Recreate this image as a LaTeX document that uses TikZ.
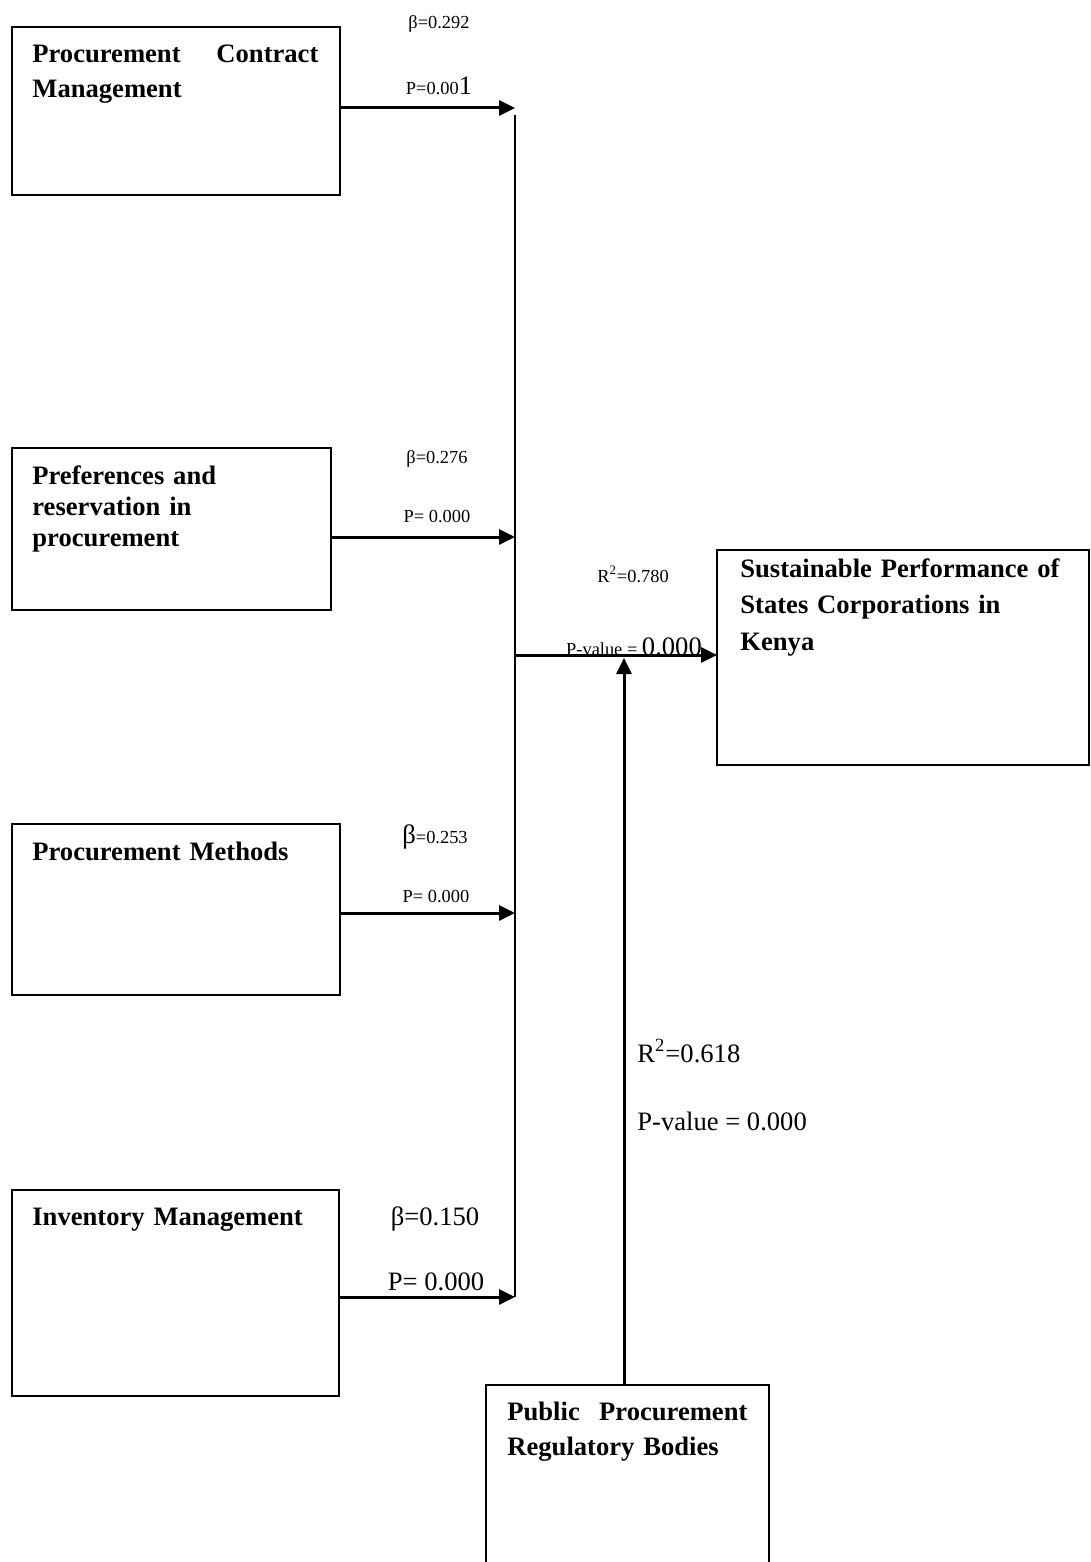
\documentclass[tikz,border=0pt]{standalone}
\usepackage{fontspec}
\setmainfont{Liberation Serif}
\usetikzlibrary{arrows.meta}

\begin{document}
\begin{tikzpicture}[
    x=0.5pt, y=-0.5pt,
    >={Triangle[length=8pt,width=7.5pt]},
    var box/.style={draw,line width=1pt,inner sep=0pt,outer sep=0pt,anchor=north west},
    box text/.style={anchor=base west,align=left,inner sep=0pt,font=\bfseries\fontsize{13.3}{17.5}\selectfont},
    small label/.style={anchor=base,inner sep=0pt,font=\fontsize{9.2}{11}\selectfont},
    big label/.style={anchor=base,inner sep=0pt,font=\fontsize{13.3}{16}\selectfont},
    path arrow/.style={->,line width=1.5pt},
    bus line/.style={line width=1pt}
]
\useasboundingbox (0,0) rectangle (1091,1562);

% Variaveis independentes (caixas a esquerda)
\node[var box,minimum width=164pt,minimum height=84pt] (pcm) at (12,27) {};
\node[box text,text width=143pt] (pcm text) at (32,63) {Procurement\hfill Contract\\Management};

\node[var box,minimum width=159.5pt,minimum height=81pt] (pref) at (12,448) {};
\node[box text,text width=150pt,font=\bfseries\fontsize{13.3}{15.5}\selectfont] (pref text) at (32,484) {Preferences and\\reservation in\\procurement};

\node[var box,minimum width=164pt,minimum height=85.5pt] (meth) at (12,824) {};
\node[box text,text width=150pt] (meth text) at (32,860) {Procurement Methods};

\node[var box,minimum width=163.5pt,minimum height=103pt] (inv) at (12,1190) {};
\node[box text,text width=150pt] (inv text) at (32,1225) {Inventory Management};

% Variavel dependente
\node[var box,minimum width=186pt,minimum height=107.5pt] (perf) at (717,550) {};
\node[box text,text width=170pt,font=\bfseries\fontsize{13.3}{18.25}\selectfont] (perf text) at (740,577) {Sustainable Performance of\\States Corporations in\\Kenya};

% Moderadora (cortada na margem inferior)
\node[var box,minimum width=141.5pt,minimum height=110pt] (ppr) at (486,1385) {};
\node[box text,text width=120pt] (ppr text) at (507,1420) {Public\hfill Procurement\\Regulatory Bodies};

% Pontos de juncao no barramento
\coordinate (bus top) at (515,115);
\coordinate (j1) at (515,108);
\coordinate (j2) at (515,537);
\coordinate (j3) at (515,913);
\coordinate (j4) at (515,1297);
\coordinate (j out) at (515,655);
\coordinate (mod tip) at (624,658);

% Setas
\draw[path arrow] (pcm.east |- j1) -- (j1);
\draw[path arrow] (pref.east |- j2) -- (j2);
\draw[path arrow] (meth.east |- j3) -- (j3);
\draw[path arrow] (inv.east |- j4) -- (j4);
\draw[bus line] (bus top) -- (j4);
\draw[path arrow] (j out) -- (j out -| perf.west);
\draw[path arrow] (ppr.north -| mod tip) -- (mod tip);

% Coeficientes
\node[small label] (beta1) at (439,29) {β=0.292};
\node[small label] (p1) at (439,95) {P=0.00{\fontsize{13.3}{16}\selectfont 1}};
\node[small label] (beta2) at (437,463) {β=0.276};
\node[small label] (p2) at (437,522) {P= 0.000};
\node[small label] (beta3) at (435,843) {{\fontsize{13.3}{16}\selectfont β}=0.253};
\node[small label] (p3) at (436,902) {P= 0.000};
\node[big label] (beta4) at (435,1225) {β=0.150};
\node[big label] (p4) at (436,1290) {P= 0.000};

\node[small label] (rsq1) at (633,582) {R\textsuperscript{2}=0.780};
\node[small label] (p5) at (634,655) {P-value = {\fontsize{13.3}{16}\selectfont 0.000}};
\node[big label,anchor=base west] (rsq2) at (637,1062) {R\textsuperscript{2}=0.618};
\node[big label,anchor=base west] (p6) at (637,1130) {P-value = 0.000};

\end{tikzpicture}
\end{document}
